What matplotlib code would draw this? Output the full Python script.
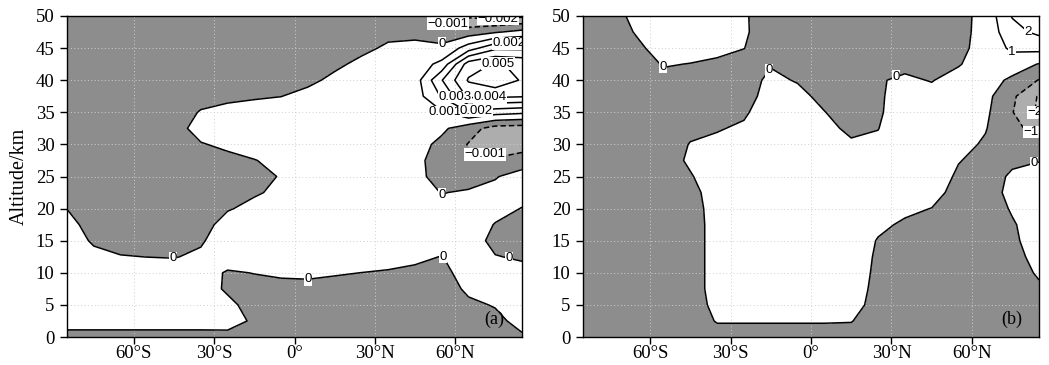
import numpy as np
import matplotlib
matplotlib.use("Agg")
import matplotlib.pyplot as plt

# ---------------- data ----------------
latitude = [-85, -75, -65, -55, -45, -35, -25, -15, -5, 5, 15, 25, 35, 45, 55, 65, 75, 85]
altitude = [0, 2.5, 5, 7.5, 10, 12.5, 15, 17.5, 20, 22.5, 25, 27.5, 30, 32.5,
            35, 37.5, 40, 42.5, 45, 47.5, 50]

# panel (a): one list per latitude column, from 0 km up to 50 km, in units of 1e-4
field_a_e4 = [
    [-4, 5, 6, 6, 6, 5, 4, 2.5, -0.1, -2.5, -4, -5, -6, -6, -6, -6, -6, -6, -6, -6, -6],          # 85S
    [-4, 5, 6, 6, 5, 2, -1, -3, -4.5, -5.5, -6, -6, -6, -6, -6, -6, -6, -6, -6, -6, -6],           # 75S
    [-4, 5, 6, 6, 4.5, 0.4, -3, -4.5, -5.5, -6, -6, -6, -6, -6, -6, -6, -6, -6, -6, -6, -6],       # 65S
    [-4, 5, 6, 6, 4, -0.1, -3, -4.5, -6, -6, -6, -6, -6, -6, -6, -6, -6, -6, -6, -6, -6],          # 55S
    [-4, 5, 6, 6, 4, -0.4, -3, -4.5, -5.5, -6, -6, -5.5, -4.5, -3, -3.5, -5, -6, -6, -6, -6, -6],  # 45S
    [-4, 5, 6, 5, 3.5, 1.5, -1, -3, -4, -4.5, -4, -3, -0.5, 3, 0.5, -2.5, -4.5, -5.5, -6, -6, -6], # 35S
    [-3, 4, 2.5, -1.5, -0.8, 4, 5, 3, -0.6, -3, -3.5, -2, 1.5, 4, 2, -1.5, -4, -5.5, -6, -6, -6],  # 25S
    [-4, -1.5, -4, -2.5, 0.2, 3, 5, 4, 2, -0.8, -1.5, -0.2, 2.5, 4.5, 3, -0.8, -3.5, -5, -6, -6, -6],  # 15S
    [-6, -6, -4.5, -2, 1, 4, 6, 5, 3.5, 1.5, 0.3, 1.5, 4, 5, 3.5, -0.1, -3, -5, -6, -6, -6],       # 5S
    [-6, -6, -4.5, -1.8, 1.2, 4, 6, 6, 6, 5, 4.5, 5, 6, 6, 4.5, 2, -1.5, -4, -5, -6, -6],          # 5N
    [-6, -6, -4.5, -2.5, 0.6, 4, 6, 6, 6, 6, 6, 6, 6, 6, 6, 4, 1.5, -1.3, -3.5, -5, -6],           # 15N
    [-6, -6, -5, -2.5, -0.05, 3.5, 5.5, 6, 6, 6, 6, 6, 6, 6, 6, 6, 4.5, 1.5, -1.5, -3.5, -5],      # 25N
    [-6, -6, -5, -3, -0.6, 2.5, 5, 6, 6, 6, 6, 6, 6, 6, 6, 6, 5.5, 4, 1, -1.7, -3],                # 35N
    [-6, -6, -5, -3.5, -1.5, 1.5, 4, 5, 5, 4, 3, 3, 4, 5, 5, 5, 5, 4, 1.5, -1.5, -5],              # 45N
    [-6, -6, -5, -4, -2, -0.2, 3, 4, 2, -0.3, -4, -5, -2.5, 2, 9, 21, 29.5, 13, 1, -2.6, -15],     # 55N
    [-5, -4, -1.5, 1.5, 3, 3.5, 3.5, 3.5, 3, 1, -4, -8.5, -10.5, -6, 19, 42, 51, 45, 15, -5, -22], # 65N
    [-4, -2, 0.5, 2.5, 2, 0.3, -2, -0.3, 2, 2, -0.5, -9, -15, -14, 14, 42, 57, 51, 28, -1, -24],   # 75N
    [-1, 2.5, 4, 4, 2, -0.8, -3, -2, -0.2, 2, 3, -4, -16, -15, 12, 41, 49, 48, 28, 3, -22],        # 85N
]
scale_a = 1e-4

# panel (b): one list per latitude column, from 0 km up to 50 km, in units of 0.1
field_b_e1 = [
    [-5, -5, -5, -5, -5, -5, -5, -5, -5, -5, -5, -5, -5, -5, -5, -5, -5, -5, -5, -5, -5],           # 85S
    [-5, -5, -5, -5, -5, -5, -5, -5, -5, -5, -5, -5, -5, -5, -5, -5, -5, -5, -4.5, -4, -3],         # 75S
    [-5, -5, -5, -5, -5, -5, -5, -5, -5, -5, -5, -5, -5, -5, -5, -5, -5, -3.5, -1.5, 0.6, 2],       # 65S
    [-5, -5, -5, -5, -5, -5, -5, -5, -5, -5, -4, -3, -3.5, -4, -4, -3.5, -2, 0.5, 3, 4, 4],         # 55S
    [-5, -4, -3.5, -3.5, -3.5, -3.5, -3.5, -3.5, -3, -2, -0.5, 1, 0.3, -1.5, -3, -3, -2.5, -0.2, 3, 4, 4],  # 45S
    [-3, 0.5, 2, 3, 3, 3, 3, 3, 3, 3, 3.5, 3, 1.5, -0.5, -2.5, -3, -2.5, -1, 1.5, 3, 3],            # 35S
    [-3, 0.5, 3, 5, 5, 5, 5, 5, 5, 5, 5, 5, 3, 1, -1, -3, -3, -2, 0.1, 1, 1],                       # 25S
    [-3, 0.5, 3, 6, 6, 6, 6, 6, 6, 6, 6, 6, 6, 5, 4, 3, 1.5, -0.5, -3, -4, -4.5],                   # 15S
    [-3, 0.5, 3, 6, 6, 6, 6, 6, 6, 6, 6, 6, 6, 5, 4, 2, -0.5, -3, -4, -5, -5],                      # 5S
    [-3, 0.5, 3, 6, 6, 6, 6, 6, 6, 6, 6, 6, 4, 2, 0.2, -2, -4, -5, -5, -5, -5],                     # 5N
    [-3, 0.3, 2, 2.5, 3, 3, 3, 3, 3, 4, 4, 3, 1, -1.5, -3.5, -4.5, -5, -5, -5, -5, -5],             # 15N
    [-5, -4, -2, -1.5, -1.2, -0.8, -0.3, 1, 3, 4, 4, 3, 1.5, -0.2, -1, -1, -0.5, -2, -3.5, -4.5, -5],  # 25N
    [-5, -5, -4.5, -4, -3.5, -3, -2, -0.7, 1, 3, 4, 5, 5, 5, 4, 3, 1, -1.5, -3, -4, -4.5],          # 35N
    [-5, -5, -5, -4.5, -4, -3.5, -2.5, -1.5, -0.1, 2, 3.5, 4.5, 5, 5, 4, 2, -0.3, -2.5, -3.5, -4, -4.5],  # 45N
    [-5, -5, -5, -5, -5, -4.5, -4, -3.5, -3, -2, -1, 0.3, 2.5, 4, 5, 4.5, 2.5, -0.5, -2, -2.5, -3], # 55N
    [-5, -5, -5, -5, -5, -5, -4.5, -4, -3.5, -2.5, -2.5, -2, -1, 0.5, 2, 3, 3.5, 3.5, 3, 2.8, 3],   # 65N
    [-4, -4, -4, -3.5, -3, -2, -1, -0.6, 0.6, 1.5, 0.8, -1, -4, -7, -9.5, -8, -1.5, 4, 12, 17, 20.5],  # 75N
    [-4, -3.5, -2.5, -1, 0.8, 2, 2.5, 3, 3, 3, 2, -0.2, -6, -14, -22, -21, -10.5, -0.4, 13, 22, 28],  # 85N
]
scale_b = 0.1

levels_a = [-0.002, -0.001, 0, 0.001, 0.002, 0.003, 0.004, 0.005]
levels_b = [-2, -1, 0, 1, 2]
fill_bounds_a = [-1, -0.002, -0.001, 0, 1]
fill_bounds_b = [-100, -2, -1, 0, 100]

xtick_values = [-60, -30, 0, 30, 60]
xtick_labels = ["60°S", "30°S", "0°", "30°N", "60°N"]
ytick_values = list(range(0, 51, 5))

# contour label anchor positions (lat, alt)
label_pos_a = {
    0: [(-45.5, 12.3), (5, 8.9), (60, 13.5), (55, 21.6), (55, 45.8), (80, 12)],
    -0.001: [(57, 47.8), (71, 28.2)],
    -0.002: [(76, 49.5)],
    0.001: [(56, 34.5)],
    0.002: [(68, 35.3), (80, 46.0)],
    0.003: [(60, 37.5)],
    0.004: [(73, 37.6)],
    0.005: [(76, 42.6)],
}
label_pos_b = {
    0: [(-55.5, 42), (-15.7, 41.6), (29.8, 42.9), (83, 27.3)],
    1: [(75, 44.3)],
    2: [(80, 46.6)],
    -1: [(81.3, 31.5)],
    -2: [(82, 34.8)],
}

FILL_COLORS = ["#c9c9c9", "#adadad", "#8d8d8d", "white"]
SERIF = ["Liberation Serif", "DejaVu Serif"]
SANS = ["Liberation Sans", "DejaVu Sans"]


def fmt_label(v):
    if abs(v) < 1e-12:
        return "0"
    return ("%g" % v).replace("-", "\u2212")


def draw_panel(ax, field, scale, line_levels, fill_bounds, label_pos, tag):
    lat = np.array(latitude)
    alt = np.array(altitude)
    Z = np.array(field, dtype=float).T * scale
    ax.contourf(lat, alt, Z, levels=fill_bounds, colors=FILL_COLORS, zorder=1)
    for lev in line_levels:
        ls = [(0, (3.5, 2.0))] if lev < 0 else ["solid"]
        cs = ax.contour(lat, alt, Z, levels=[lev], colors="k", linewidths=1.1,
                        linestyles=ls, zorder=2)
        key = None
        for k in label_pos:
            if abs(k - lev) < 1e-9:
                key = k
        if key is not None and len(cs.allsegs[0]) > 0:
            texts = ax.clabel(cs, manual=label_pos[key], inline=False,
                              fmt=fmt_label, fontsize=9.5)
            for t in texts:
                t.set_rotation(0)
                t.set_fontfamily(SANS)
                t.set_zorder(4)
                t.set_bbox(dict(boxstyle="square,pad=0.03", fc="white", ec="none"))
    ax.set_xlim(-85, 85)
    ax.set_ylim(0, 50)
    ax.set_xticks(xtick_values)
    ax.set_xticklabels(xtick_labels)
    ax.set_yticks(ytick_values)
    ax.tick_params(direction="out", length=5, width=1, labelsize=13.5,
                   top=False, right=False)
    ax.tick_params(axis="y", pad=4)
    ax.tick_params(axis="x", pad=1)
    for lab in ax.get_xticklabels() + ax.get_yticklabels():
        lab.set_fontfamily(SERIF)
    ax.grid(True, color="#cfcfcf", linestyle=(0, (1, 2.5)), linewidth=0.7)
    for sp in ax.spines.values():
        sp.set_linewidth(1.0)
        sp.set_zorder(5)
    ax.text(0.94, 0.055, tag, transform=ax.transAxes, ha="center", va="center",
            fontsize=13, fontfamily=SERIF, zorder=6)


fig = plt.figure(figsize=(10.49, 3.65), dpi=100)
ax_a = fig.add_axes([67 / 1049, 28 / 365, 455 / 1049, 321 / 365])
ax_b = fig.add_axes([583 / 1049, 28 / 365, 456 / 1049, 321 / 365])

draw_panel(ax_a, field_a_e4, scale_a, levels_a, fill_bounds_a, label_pos_a, "(a)")
draw_panel(ax_b, field_b_e1, scale_b, levels_b, fill_bounds_b, label_pos_b, "(b)")

ax_a.set_ylabel("Altitude/km", fontsize=14.5, fontfamily=SERIF, labelpad=5)

fig.savefig("out.png", dpi=100)
